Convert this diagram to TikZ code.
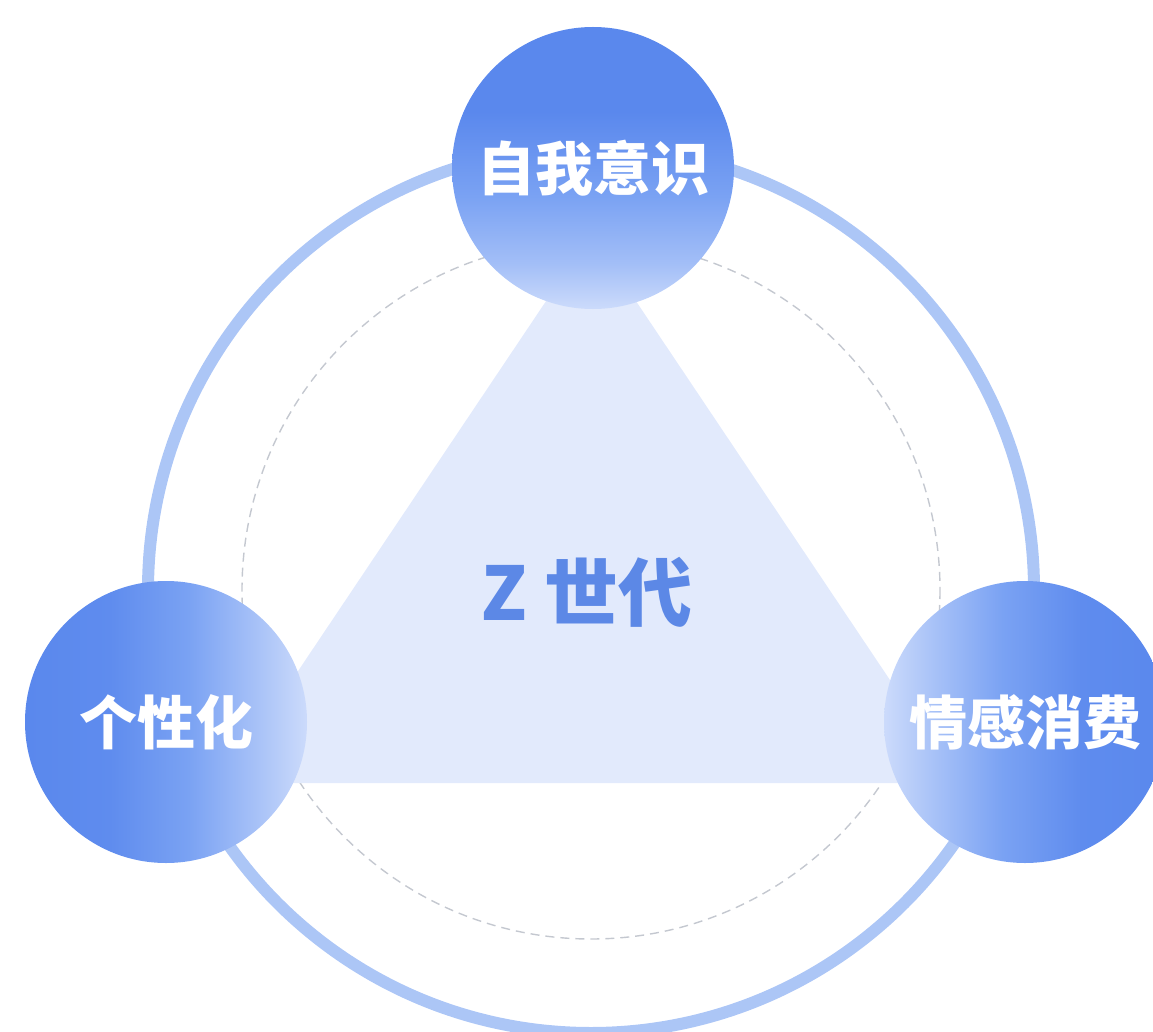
\documentclass[tikz,border=0pt]{standalone}
\usepackage{fontspec}
\newfontfamily\cjk{Noto Sans CJK SC}
\definecolor{ringblue}{RGB}{172,198,246}
\definecolor{dashgray}{RGB}{196,200,208}
\definecolor{trifill}{RGB}{226,234,252}
\definecolor{ballDark}{RGB}{90,136,237}
\definecolor{ballMid}{RGB}{122,162,243}
\definecolor{ballLight}{RGB}{204,219,251}
\definecolor{titleblue}{RGB}{92,136,230}
\pgfdeclareverticalshading{topball}{100bp}{color(0bp)=(ballLight); color(25bp)=(ballLight); color(33bp)=(ballMid!50!ballLight); color(45bp)=(ballMid); color(60bp)=(ballDark); color(75bp)=(ballDark); color(100bp)=(ballDark)}
\pgfdeclarehorizontalshading{leftball}{100bp}{color(0bp)=(ballDark); color(25bp)=(ballDark); color(40bp)=(ballDark!85!ballMid); color(54bp)=(ballMid); color(66bp)=(ballMid!45!ballLight); color(75bp)=(ballLight); color(100bp)=(ballLight)}
\pgfdeclarehorizontalshading{rightball}{100bp}{color(0bp)=(ballLight); color(25bp)=(ballLight); color(34bp)=(ballMid!45!ballLight); color(46bp)=(ballMid); color(60bp)=(ballDark!85!ballMid); color(75bp)=(ballDark); color(100bp)=(ballDark)}
\tikzset{
  ball/.style={circle, minimum size=282pt, inner sep=0pt, text=white,
    font=\cjk\bfseries\fontsize{58}{60}\selectfont},
  ring/.style={draw=ringblue, line width=12pt},
  dashring/.style={draw=dashgray, line width=1.4pt, dash pattern=on 9pt off 6pt},
}
\begin{document}
\begin{tikzpicture}[x=1pt,y=-1pt]
\useasboundingbox (0,0) rectangle (1153,1032);
\begin{scope}
\clip (0,0) rectangle (1153,1032);
\coordinate (c) at (591,590);
\draw[ring] (c) circle[radius=443];
\draw[dashring] (c) circle[radius=349];
\coordinate (tA) at (591,234);
\coordinate (tB) at (223,783);
\coordinate (tC) at (959,783);
\fill[trifill] (tA) -- (tB) -- (tC) -- cycle;
\node[ball, shade, shading=topball] (self) at (593,168) {自我意识};
\node[ball, shade, shading=leftball] (pers) at (166,722) {个性化};
\node[ball, shade, shading=rightball] (emo) at (1025,722) {情感消费};
\node[font=\cjk\bfseries\fontsize{74}{76}\selectfont, text=titleblue] (gz) at (587,592) {Z 世代};
\end{scope}
\end{tikzpicture}
\end{document}
